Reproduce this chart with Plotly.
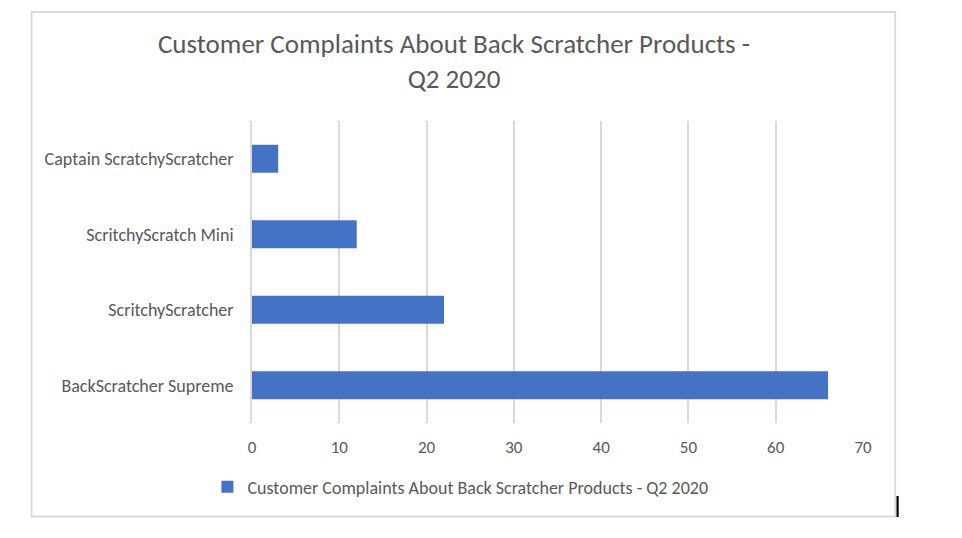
import plotly.graph_objects as go

products = ["BackScratcher Supreme", "ScritchyScratcher", "ScritchyScratch Mini", "Captain ScratchyScratcher"]
complaints = [66, 22, 12, 3]
series_name = "Customer Complaints About Back Scratcher Products - Q2 2020"
title_text = "Customer Complaints About Back Scratcher Products -<br>Q2 2020"
x_ticks = [0, 10, 20, 30, 40, 50, 60, 70]

FONT = "Carlito, Lato, 'Open Sans', sans-serif"
GRAY = "#595959"
OFF = 8  # page body offset

fig = go.Figure()
fig.add_trace(go.Bar(
    y=products, x=complaints, orientation="h", name=series_name,
    marker=dict(color="#4472C4", line=dict(width=0)),
))

W, H = 962, 538
# target page coordinates of plot area
L, R, T, B = 251.5, 862.7, 121, 423
pw, ph = R - L, B - T

def px(xp):
    return (xp - L) / pw

def py(yp):
    return (B - yp) / ph

fig.update_layout(
    width=W, height=H,
    margin=dict(l=L - OFF, r=W - (R - OFF), t=T - OFF, b=H - (B - OFF), pad=0),
    paper_bgcolor="white", plot_bgcolor="white",
    font=dict(family=FONT, color=GRAY, size=17),
    title=dict(text=title_text, x=(454 - OFF) / W, xanchor="center", y=1 - (53 - OFF) / H,
               yanchor="middle", font=dict(family=FONT, size=27, color=GRAY)),
    bargap=0.63,
    showlegend=True,
    legend=dict(orientation="h", x=px(460), xanchor="center", y=py(487), yanchor="middle",
                font=dict(family=FONT, size=18, color=GRAY), itemwidth=30),
    xaxis=dict(range=[0, 70], tickvals=x_ticks, showgrid=True, gridcolor="#D9D9D9", gridwidth=1.6,
               zeroline=False, showline=False, ticks="", ticklabelstandoff=12,
               tickfont=dict(family=FONT, size=17, color=GRAY), fixedrange=True),
    yaxis=dict(showgrid=False, zeroline=False, showline=True, linecolor="#D9D9D9", linewidth=1.6,
               ticks="", ticklabelstandoff=13, tickfont=dict(family=FONT, size=18, color=GRAY),
               fixedrange=True),
    shapes=[
        dict(type="rect", xref="paper", yref="paper", x0=px(31), x1=px(895), y0=py(516.5), y1=py(12),
             line=dict(color="#D9D9D9", width=1.8), fillcolor="rgba(0,0,0,0)", layer="below"),
        dict(type="line", xref="paper", yref="paper", x0=px(897.3), x1=px(897.3), y0=py(517), y1=py(496),
             line=dict(color="black", width=2.2)),
    ],
)

fig.write_html("out.html", config={"displayModeBar": False})
